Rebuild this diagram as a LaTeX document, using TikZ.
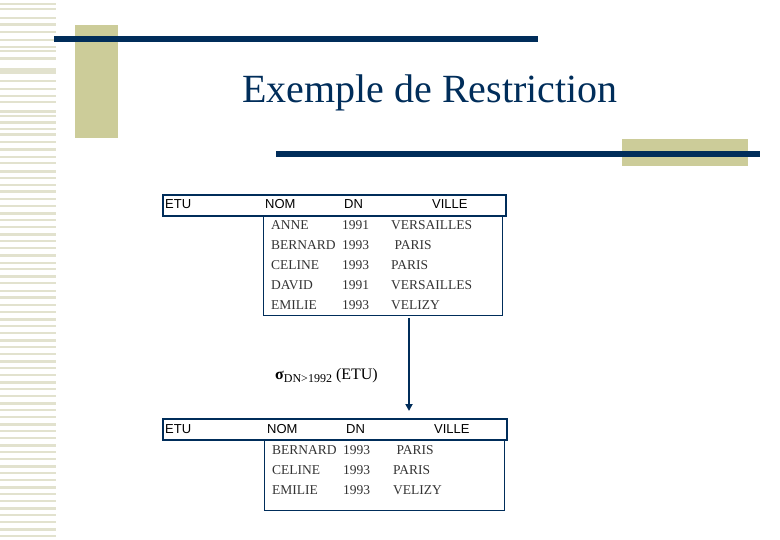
\documentclass[tikz,border=0pt]{standalone}
\usepackage{fontspec}
\setmainfont{Liberation Serif}
\newfontfamily\hdr{Liberation Sans}
\usetikzlibrary{arrows.meta}
\definecolor{navy}{RGB}{0,45,90}
\definecolor{tan}{RGB}{204,204,153}
\definecolor{stripe}{RGB}{226,226,206}
\tikzset{hd/.style={font=\hdr\fontsize{13}{13}\selectfont,anchor=base west,inner sep=0},
 dt/.style={font=\fontsize{13.5}{14}\selectfont,anchor=base west,inner sep=0,text=black!80}}
\begin{document}
\begin{tikzpicture}[x=1pt,y=-1pt]
\useasboundingbox (0,0) rectangle (780,540);
\foreach \y/\h in {3/2,8/2,17/2,23/3,31/2,39/2,46/2,50/2,57/3,68/6,80/2,88/2,95/2,101/2,110/3,115/2,121/3,128/2,133/3,141/2,148/3,156/2,162/2,170/3,177/2,184/2,190/3,198/2,205/2,212/3,219/2,226/2,233/3,240/2,247/2,254/3,262/2,268/2,275/3,282/2,290/2,296/3,304/2,311/2,318/3,325/2,332/2,339/3,346/2,353/2,360/3,367/2,374/2,381/3,388/2,395/2,402/3,409/2,416/2,423/3,430/2,437/2,444/3,451/2,458/2,465/3,472/2,479/2,486/3,493/2,500/2,507/3,514/2,521/2,528/3,535/2}
  \fill[stripe] (0,\y) rectangle (56,\y+\h);
\fill[tan] (75,25) rectangle (118,138);
\fill[navy] (54,36) rectangle (538,42);
\fill[tan] (622,139) rectangle (748,166);
\fill[navy] (276,151) rectangle (760,157);
\node[text=navy,font=\fontsize{40}{40}\selectfont] (title) at (430,93) {Exemple de Restriction};
% table 1
\node[draw=navy,line width=2pt,minimum width=343,minimum height=21,anchor=north west,inner sep=0] (h1) at (162,194) {};
\node[draw=navy,line width=0.8pt,minimum width=239,minimum height=100,anchor=north west,inner sep=0] (d1) at (263,215) {};
\node[hd] (e1) at (165,209) {ETU};
\node[hd] (n1) at (265,209) {NOM};
\node[hd] (dn1) at (344,209) {DN};
\node[hd] (v1) at (432,209) {VILLE};
\foreach \i/\n/\d/\v in {0/ANNE/1991/VERSAILLES,1/BERNARD/1993/{\ PARIS},2/CELINE/1993/PARIS,3/DAVID/1991/VERSAILLES,4/EMILIE/1993/VELIZY}{
 \node[dt] at (271,230+20*\i) {\n};
 \node[dt] at (342,230+20*\i) {\d};
 \node[dt] at (391,230+20*\i) {\v};}
% operation
\node[anchor=base west,inner sep=0,font=\fontsize{16}{16}\selectfont] (op) at (275,380) {\textbf{σ}\raisebox{-3pt}{\fontsize{12}{12}\selectfont DN>1992} (ETU)};
\coordinate (a1) at (409,318);
\coordinate (a2) at (409,411);
\draw[navy,line width=2pt,-{Triangle[length=7pt,width=7pt]}] (a1) -- (a2);
% table 2
\node[draw=navy,line width=2pt,minimum width=344,minimum height=21,anchor=north west,inner sep=0] (h2) at (162,418) {};
\node[draw=navy,line width=0.8pt,minimum width=240,minimum height=71,anchor=north west,inner sep=0] (d2) at (264,439) {};
\node[hd] (e2) at (165,433) {ETU};
\node[hd] (n2) at (267,433) {NOM};
\node[hd] (dn2) at (346,433) {DN};
\node[hd] (v2) at (434,433) {VILLE};
\foreach \i/\n/\d/\v in {0/BERNARD/1993/{\ PARIS},1/CELINE/1993/PARIS,2/EMILIE/1993/VELIZY}{
 \node[dt] at (272,454+20*\i) {\n};
 \node[dt] at (343,454+20*\i) {\d};
 \node[dt] at (393,454+20*\i) {\v};}
\end{tikzpicture}
\end{document}
